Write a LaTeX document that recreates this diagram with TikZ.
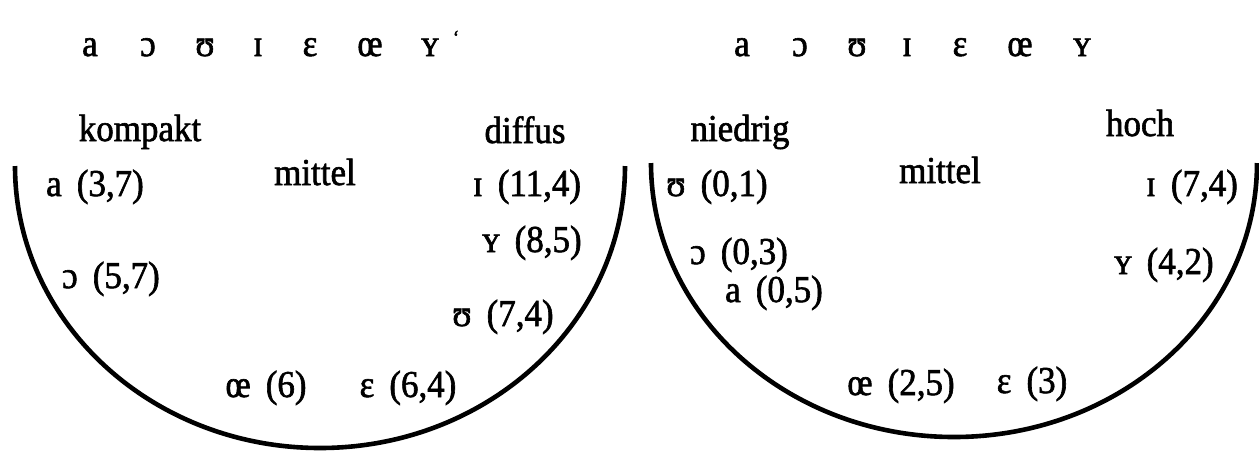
\documentclass[tikz,border=0pt]{standalone}
\usepackage{fontspec}
\setmainfont{Liberation Serif}[FakeBold=1.6, FakeStretch=0.92]
\usetikzlibrary{positioning}

\begin{document}
\begin{tikzpicture}[
  x=0.5pt, y=-0.5pt,
  every node/.style={font=\fontsize{19}{22}\selectfont, inner sep=0pt},
  vowel/.style={anchor=base},
  feat/.style={anchor=base},
  val/.style={anchor=base},
  curve/.style={line width=2.3pt},
]
\useasboundingbox (0,0) rectangle (1259,452);

% left: kompakt -- diffus
\node[vowel] (la)  at (90,56)  {a};
\node[vowel] (lo)  at (148,56) {ɔ};
\node[vowel] (lu)  at (205,56) {ʊ};
\node[vowel] (li)  at (258,56) {ɪ};
\node[vowel] (le)  at (310,56) {ɛ};
\node[vowel] (loe) at (370,56) {œ};
\node[vowel] (ly)  at (430,56) {ʏ};
\node[font=\fontsize{10}{11}\selectfont, anchor=base] (ltick) at (456,44) {‘};

\node[feat] (kompakt) at (140,141) {kompakt};
\node[feat] (diffus)  at (525,143) {diffus};
\node[feat] (lmittel) at (315,185) {mittel};

\node[val] (va37)  at (95,196)  {a\,\ (3,7)};
\node[val] (vi114) at (527,196) {ɪ\,\ (11,4)};
\node[val] (vy85)  at (532,252) {ʏ\,\ (8,5)};
\node[val] (vo57)  at (111,288) {ɔ\,\ (5,7)};
\node[val] (vu74)  at (503,326) {ʊ\,\ (7,4)};
\node[val] (voe6)  at (266,397) {œ\,\ (6)};
\node[val] (ve64)  at (408,397) {ɛ\,\ (6,4)};

\draw[curve] (15,166) arc[start angle=180, end angle=0, x radius=305, y radius=282];

% right: niedrig -- hoch
\node[vowel] (ra)  at (742,56)  {a};
\node[vowel] (ro)  at (800,56)  {ɔ};
\node[vowel] (ru)  at (857,56)  {ʊ};
\node[vowel] (ri)  at (907,56)  {ɪ};
\node[vowel] (re)  at (960,56)  {ɛ};
\node[vowel] (roe) at (1020,56) {œ};
\node[vowel] (ry)  at (1082,56) {ʏ};

\node[feat] (niedrig) at (740,141) {niedrig};
\node[feat] (hoch)    at (1140,136) {hoch};
\node[feat] (rmittel) at (940,183) {mittel};

\node[val] (vu01) at (717,196)  {ʊ\,\ (0,1)};
\node[val] (vi74) at (1192,196) {ɪ\,\ (7,4)};
\node[val] (vo03) at (739,264)  {ɔ\,\ (0,3)};
\node[val] (vy42) at (1164,274) {ʏ\,\ (4,2)};
\node[val] (va05) at (774,302)  {a\,\ (0,5)};
\node[val] (voe25) at (901,395) {œ\,\ (2,5)};
\node[val] (ve3)  at (1032,393) {ɛ\,\ (3)};

\draw[curve] (651,163) arc[start angle=180, end angle=0, x radius=303, y radius=274];
\end{tikzpicture}
\end{document}
